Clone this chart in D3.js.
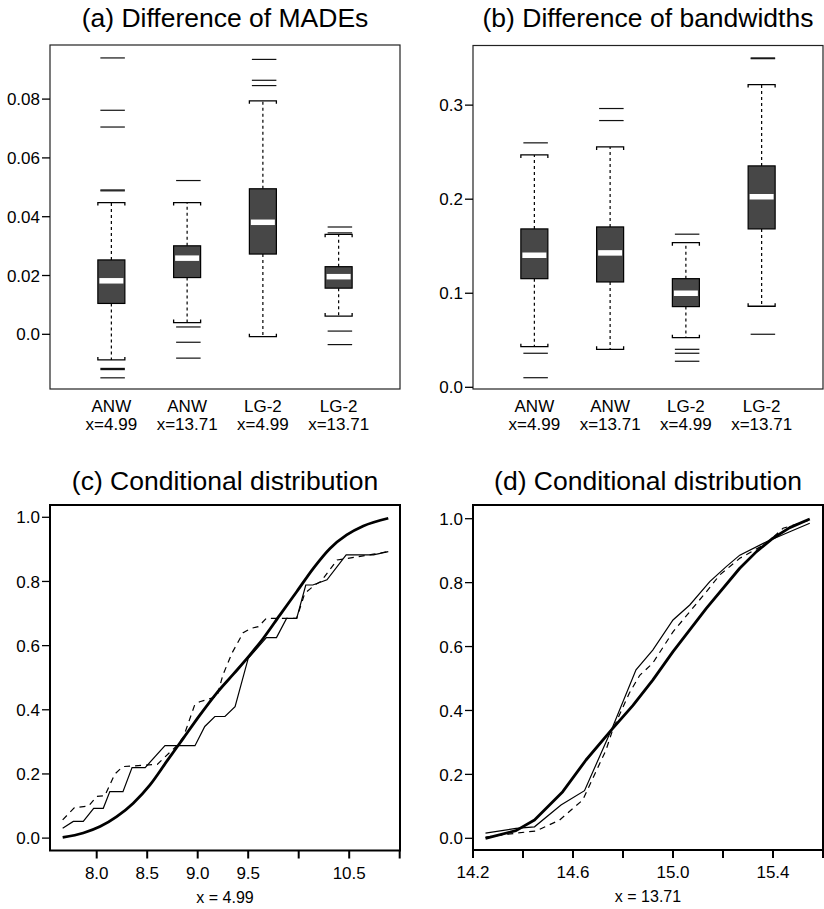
<!DOCTYPE html>
<html>
<head>
<meta charset="utf-8">
<script src="https://cdn.jsdelivr.net/npm/d3@7"></script>
<style>
  html, body { margin: 0; padding: 0; background: #fff; }
  svg { display: block; }
  text { font-family: "Liberation Sans", Arial, Helvetica, sans-serif; fill: #000; }
</style>
</head>
<body>
<svg id="chart" width="824" height="909"></svg>
<script>
// ---------------- DATA ----------------
const boxCategories = ["ANW", "ANW", "LG-2", "LG-2"];
const boxSubLabels = ["x=4.99", "x=13.71", "x=4.99", "x=13.71"];

// (a) Difference of MADEs
const madeLow  = [-0.0087, 0.0040, -0.0008, 0.0062];
const madeQ1   = [0.0105, 0.0193, 0.0273, 0.0157];
const madeMed  = [0.0182, 0.0259, 0.0381, 0.0196];
const madeQ3   = [0.0253, 0.0301, 0.0495, 0.0230];
const madeHigh = [0.0448, 0.0448, 0.0794, 0.0340];
const madeOut  = [
  [0.0940, 0.0762, 0.0705, 0.0488, 0.0491, -0.0116, -0.0120, -0.0148],
  [0.0523, 0.0025, -0.0027, -0.0081],
  [0.0935, 0.0864, 0.0846],
  [0.0365, 0.0345, 0.0011, -0.0035]
];
const madeTicks = [0.0, 0.02, 0.04, 0.06, 0.08];
const madeTickLabels = ["0.0", "0.02", "0.04", "0.06", "0.08"];

// (b) Difference of bandwidths
const bwLow  = [0.0432, 0.0404, 0.0528, 0.0862];
const bwQ1   = [0.1155, 0.1120, 0.0858, 0.1684];
const bwMed  = [0.1404, 0.1429, 0.1000, 0.2026];
const bwQ3   = [0.1684, 0.1705, 0.1155, 0.2354];
const bwHigh = [0.2471, 0.2556, 0.1538, 0.3219];
const bwOut  = [
  [0.2599, 0.0362, 0.0102],
  [0.2964, 0.2836],
  [0.1628, 0.0404, 0.0362, 0.0277],
  [0.3494, 0.3502, 0.0564]
];
const bwTicks = [0.0, 0.1, 0.2, 0.3];
const bwTickLabels = ["0.0", "0.1", "0.2", "0.3"];

// (c) Conditional distribution, x = 4.99
const cTrue = [[7.663,0.002],[7.867,0.016],[8.033,0.036],[8.198,0.067],[8.362,0.109],[8.528,0.166],[8.693,0.239],[8.857,0.311],[9.023,0.384],[9.188,0.452],[9.353,0.511],[9.518,0.571],[9.65,0.623],[9.815,0.696],[9.98,0.768],[10.145,0.841],[10.31,0.903],[10.475,0.945],[10.64,0.973],[10.887,0.997]];
const cAnw  = [[7.663,0.031],[7.768,0.052],[7.867,0.052],[7.97,0.093],[8.065,0.093],[8.13,0.145],[8.26,0.145],[8.35,0.22],[8.48,0.22],[8.676,0.288],[8.973,0.288],[9.07,0.348],[9.17,0.379],[9.27,0.379],[9.37,0.41],[9.5,0.56],[9.68,0.625],[9.78,0.625],[9.88,0.685],[9.98,0.685],[10.07,0.789],[10.14,0.789],[10.28,0.805],[10.47,0.883],[10.74,0.883],[10.887,0.893]];
const cLg   = [[7.663,0.057],[7.78,0.095],[7.92,0.1],[8.0,0.13],[8.08,0.132],[8.18,0.2],[8.26,0.223],[8.6,0.23],[8.8,0.29],[8.86,0.316],[8.97,0.415],[9.02,0.425],[9.19,0.441],[9.25,0.509],[9.34,0.577],[9.45,0.64],[9.53,0.654],[9.6,0.659],[9.68,0.685],[9.98,0.685],[10.06,0.763],[10.16,0.789],[10.22,0.8],[10.38,0.867],[10.55,0.875],[10.74,0.885],[10.887,0.893]];
const cXTicks = [8.0, 8.5, 9.0, 9.5, 10.0, 10.5, 11.0];
const cXTickLabels = ["8.0", "8.5", "9.0", "9.5", "", "10.5", ""];

// (d) Conditional distribution, x = 13.71
const dTrue = [[14.25,0.0],[14.372,0.024],[14.446,0.057],[14.559,0.146],[14.652,0.245],[14.759,0.344],[14.839,0.415],[14.919,0.495],[15.0,0.584],[15.134,0.72],[15.267,0.845],[15.334,0.897],[15.4,0.939],[15.467,0.972],[15.547,0.999]];
const dAnw  = [[14.25,0.016],[14.372,0.031],[14.446,0.036],[14.552,0.104],[14.646,0.149],[14.759,0.349],[14.852,0.527],[14.919,0.589],[15.0,0.683],[15.067,0.73],[15.147,0.803],[15.213,0.85],[15.267,0.886],[15.374,0.928],[15.467,0.959],[15.547,0.986]];
const dLg   = [[14.25,0.004],[14.372,0.016],[14.452,0.023],[14.546,0.057],[14.639,0.12],[14.732,0.276],[14.759,0.34],[14.825,0.454],[14.867,0.51],[14.919,0.548],[15.0,0.646],[15.134,0.772],[15.187,0.824],[15.267,0.876],[15.374,0.923],[15.44,0.97],[15.547,0.996]];
const dXTicks = [14.2, 14.4, 14.6, 14.8, 15.0, 15.2, 15.4, 15.6];
const dXTickLabels = ["14.2", "", "14.6", "", "15.0", "", "15.4", ""];

const cdfTicks = [0.0, 0.2, 0.4, 0.6, 0.8, 1.0];
const cdfTickLabels = ["0.0", "0.2", "0.4", "0.6", "0.8", "1.0"];

const titles = ["(a) Difference of MADEs", "(b) Difference of bandwidths",
                "(c) Conditional distribution", "(d) Conditional distribution"];
const xTitles = ["x = 4.99", "x = 13.71"];

// ---------------- DRAWING ----------------
const svg = d3.select("#chart");
svg.append("rect").attr("width", 824).attr("height", 909).attr("fill", "#fff");

const TICK_FS = 17, TITLE_FS = 26.5;

function yAxis(g, y, x0, ticks, labels) {
  const ax = g.append("g");
  ticks.forEach((t, i) => {
    const yy = y(t);
    ax.append("line").attr("x1", x0 - 8).attr("x2", x0).attr("y1", yy).attr("y2", yy)
      .attr("stroke", "#000").attr("stroke-width", 1.3);
    ax.append("text").attr("x", x0 - 10).attr("y", yy).attr("dy", "0.36em")
      .attr("text-anchor", "end").attr("font-size", TICK_FS).text(labels[i]);
  });
}

function boxPanel(opts) {
  const { left, right, top, bottom, yDomain, low, q1, med, q3, high, out, ticks, tickLabels, title, cx } = opts;
  const g = svg.append("g");
  const x = d3.scaleLinear().domain([0.19, 4.81]).range([left, right]);
  const y = d3.scaleLinear().domain(yDomain).range([bottom, top]);
  const bw = 27, half = bw / 2;

  boxCategories.forEach((c, i) => {
    const xc = x(i + 1);
    // whiskers
    g.append("line").attr("x1", xc).attr("x2", xc).attr("y1", y(q3[i])).attr("y2", y(high[i]))
      .attr("stroke", "#000").attr("stroke-width", 1.2).attr("stroke-dasharray", "3,3");
    g.append("line").attr("x1", xc).attr("x2", xc).attr("y1", y(q1[i])).attr("y2", y(low[i]))
      .attr("stroke", "#000").attr("stroke-width", 1.2).attr("stroke-dasharray", "3,3");
    // caps
    const yh = y(high[i]), yl = y(low[i]);
    g.append("path").attr("d", `M${xc - half},${yh + 3}V${yh}H${xc + half}V${yh + 3}`)
      .attr("fill", "none").attr("stroke", "#000").attr("stroke-width", 1.3);
    g.append("path").attr("d", `M${xc - half},${yl - 3}V${yl}H${xc + half}V${yl - 3}`)
      .attr("fill", "none").attr("stroke", "#000").attr("stroke-width", 1.3);
    // box
    g.append("rect").attr("x", xc - half).attr("y", y(q3[i])).attr("width", bw)
      .attr("height", y(q1[i]) - y(q3[i])).attr("fill", "#474747")
      .attr("stroke", "#000").attr("stroke-width", 1.2);
    // median
    g.append("line").attr("x1", xc - half + 1.5).attr("x2", xc + half - 1.5)
      .attr("y1", y(med[i])).attr("y2", y(med[i]))
      .attr("stroke", "#fff").attr("stroke-width", 5.5);
    // outliers
    out[i].forEach(v => {
      g.append("line").attr("x1", xc - half + 2.5).attr("x2", xc + half)
        .attr("y1", y(v)).attr("y2", y(v)).attr("stroke", "#111").attr("stroke-width", 1.2);
    });
    // labels
    g.append("text").attr("x", xc).attr("y", bottom + 23).attr("text-anchor", "middle")
      .attr("font-size", TICK_FS).text(c);
    g.append("text").attr("x", xc).attr("y", bottom + 41).attr("text-anchor", "middle")
      .attr("font-size", TICK_FS).text(boxSubLabels[i]);
  });

  g.append("rect").attr("x", left).attr("y", top).attr("width", right - left).attr("height", bottom - top)
    .attr("fill", "none").attr("stroke", "#222").attr("stroke-width", 1.2);
  yAxis(g, y, left, ticks, tickLabels);
  g.append("text").attr("x", cx).attr("y", 27).attr("text-anchor", "middle")
    .attr("font-size", TITLE_FS).text(title);
}

boxPanel({ left: 50, right: 400, top: 45, bottom: 389, yDomain: [-0.0186, 0.0984],
  low: madeLow, q1: madeQ1, med: madeMed, q3: madeQ3, high: madeHigh, out: madeOut,
  ticks: madeTicks, tickLabels: madeTickLabels, title: titles[0], cx: 225 });
boxPanel({ left: 473, right: 823, top: 45.5, bottom: 389, yDomain: [-0.0018, 0.3634],
  low: bwLow, q1: bwQ1, med: bwMed, q3: bwQ3, high: bwHigh, out: bwOut,
  ticks: bwTicks, tickLabels: bwTickLabels, title: titles[1], cx: 648 });

function cdfPanel(opts) {
  const { left, right, top, bottom, xDomain, yDomain, truth, anw, lg, xTicks, xTickLabels, title, xTitle, cx, smoothTruth } = opts;
  const g = svg.append("g");
  const x = d3.scaleLinear().domain(xDomain).range([left, right]);
  const y = d3.scaleLinear().domain(yDomain).range([bottom, top]);

  const smooth = d3.line().x(d => x(d[0])).y(d => y(d[1])).curve(d3.curveMonotoneX);
  const lin = d3.line().x(d => x(d[0])).y(d => y(d[1]));

  g.append("path").attr("d", lin(lg)).attr("fill", "none").attr("stroke", "#000")
    .attr("stroke-width", 1.2).attr("stroke-dasharray", "6,5");
  g.append("path").attr("d", lin(anw)).attr("fill", "none").attr("stroke", "#000")
    .attr("stroke-width", 1.2);
  g.append("path").attr("d", (smoothTruth ? smooth : lin)(truth)).attr("fill", "none").attr("stroke", "#000")
    .attr("stroke-width", 2.8).attr("stroke-linejoin", "round");

  g.append("rect").attr("x", left).attr("y", top).attr("width", right - left).attr("height", bottom - top)
    .attr("fill", "none").attr("stroke", "#000").attr("stroke-width", 2);

  yAxis(g, y, left, cdfTicks, cdfTickLabels);
  xTicks.forEach((t, i) => {
    const xx = x(t);
    g.append("line").attr("x1", xx).attr("x2", xx).attr("y1", bottom).attr("y2", bottom + 8)
      .attr("stroke", "#000").attr("stroke-width", 2);
    if (xTickLabels[i]) {
      g.append("text").attr("x", xx).attr("y", bottom + 28).attr("text-anchor", "middle")
        .attr("font-size", TICK_FS).text(xTickLabels[i]);
    }
  });
  g.append("text").attr("x", (left + right) / 2).attr("y", bottom + 52).attr("text-anchor", "middle")
    .attr("font-size", 16).text(xTitle);
  g.append("text").attr("x", cx).attr("y", 490).attr("text-anchor", "middle")
    .attr("font-size", TITLE_FS).text(title);
}

cdfPanel({ left: 50, right: 400, top: 505, bottom: 850.5, xDomain: [7.5376, 11.003], yDomain: [-0.0386, 1.0383],
  truth: cTrue, anw: cAnw, lg: cLg, xTicks: cXTicks, xTickLabels: cXTickLabels,
  title: titles[2], xTitle: xTitles[0], cx: 225, smoothTruth: true });
cdfPanel({ left: 473, right: 823, top: 505, bottom: 850, xDomain: [14.2, 15.6], yDomain: [-0.0366, 1.0429],
  truth: dTrue, anw: dAnw, lg: dLg, xTicks: dXTicks, xTickLabels: dXTickLabels,
  title: titles[3], xTitle: xTitles[1], cx: 648, smoothTruth: false });
</script>
</body>
</html>
